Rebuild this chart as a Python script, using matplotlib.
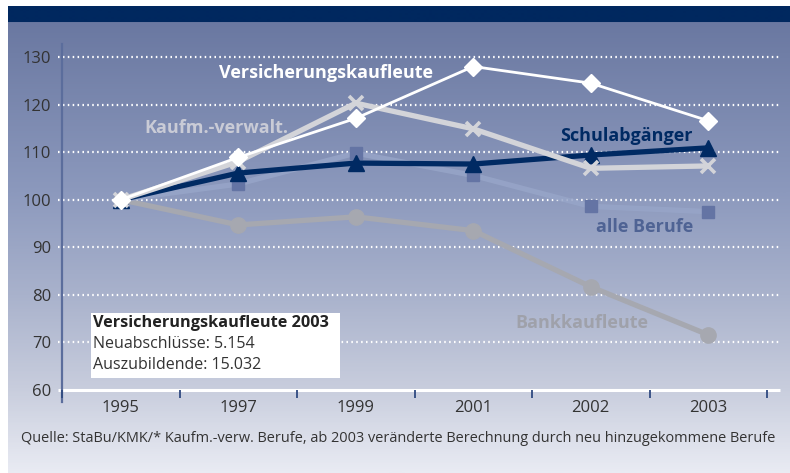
import numpy as np
import matplotlib
matplotlib.use("Agg")
import matplotlib.pyplot as plt
from matplotlib.patches import Rectangle
from matplotlib.lines import Line2D
from matplotlib.colors import LinearSegmentedColormap

# ---------------- data ----------------
years = ["1995", "1997", "1999", "2001", "2002", "2003"]
versicherung = [100, 108.9, 117.1, 128.0, 124.5, 116.6]
kaufm_verwalt = [100, 108.0, 120.3, 114.9, 106.6, 107.1]
schulabgaenger = [100, 105.6, 107.7, 107.5, 109.4, 110.9]
alle_berufe = [100, 103.3, 109.8, 105.1, 98.6, 97.5]
bankkaufleute = [100, 94.7, 96.4, 93.5, 81.7, 71.6]
y_ticks = [60, 70, 80, 90, 100, 110, 120, 130]

label_vers = "Versicherungskaufleute"
label_kaufm = "Kaufm.-verwalt."
label_schul = "Schulabgänger"
label_alle = "alle Berufe"
label_bank = "Bankkaufleute"
box_title = "Versicherungskaufleute 2003"
box_lines = ["Neuabschlüsse: 5.154", "Auszubildende: 15.032"]
source = "Quelle: StaBu/KMK/* Kaufm.-verw. Berufe, ab 2003 veränderte Berechnung durch neu hinzugekommene Berufe"

FONT = ["Open Sans", "DejaVu Sans"]
plt.rcParams["font.family"] = FONT

W, H = 790, 473
fig = plt.figure(figsize=(W / 100, H / 100), dpi=100)
fig.patch.set_facecolor("white")

def fx(px):
    return px / W

def fy(py):
    return 1 - py / H

# ---------------- background ----------------
bg = fig.add_axes([fx(8), fy(473), fx(790) - fx(8), fy(6) - fy(473)], zorder=0)
bg.set_axis_off()
stops = [(0.0, "#00285f"), (0.0345, "#00285f"), (0.0346, "#6a78a1"),
         (0.40, "#8c99bd"), (0.62, "#a9b2cc"), (0.82, "#c8cddd"), (1.0, "#e9ebf3")]
cmap = LinearSegmentedColormap.from_list("bgc", stops)
grad = np.linspace(0, 1, 467).reshape(-1, 1)
bg.imshow(grad, aspect="auto", cmap=cmap, extent=[0, 1, 1, 0], interpolation="bilinear")
bg.set_xlim(0, 1)
bg.set_ylim(1, 0)

# ---------------- main axes ----------------
ax = fig.add_axes([fx(58), fy(390), fx(780) - fx(58), fy(44) - fy(390)], zorder=2)
ax.patch.set_alpha(0)
band = 117.5
x_left = -0.5 - 4 / band
x_right = 5.5 + 13 / band
ax.set_xlim(x_left, x_right)
ymax = 130 + 13 / 4.76
ax.set_ylim(60, ymax)
for s in ax.spines.values():
    s.set_visible(False)

x = np.arange(len(years))

# grid lines (dotted white)
for yv in y_ticks[1:]:
    ax.plot([x_left, x_right], [yv, yv], color="white", lw=1.6,
            linestyle=(0, (0.7, 1.5)), dash_capstyle="butt", zorder=1)
# bottom axis line
ax.plot([x_left, x_right], [60, 60], color="white", lw=2.2, zorder=1, clip_on=False,
        solid_capstyle="butt")
# left vertical axis line
ax.add_line(Line2D([-0.5, -0.5], [60 - 12 / 4.76, ymax], color="#5b6d9c", lw=1.6,
                   clip_on=False, zorder=1))

# ticks
ax.set_yticks(y_ticks)
ax.set_yticklabels([str(v) for v in y_ticks])
ax.tick_params(axis="y", length=0, pad=5, labelsize=12, labelcolor="#333333")
ax.set_xticks(x)
ax.set_xticklabels(years)
ax.tick_params(axis="x", which="major", length=0, pad=7, labelsize=12, labelcolor="#333333")
ax.set_xticks(np.arange(-0.5, 6.0, 1.0), minor=True)
ax.tick_params(axis="x", which="minor", length=6, width=1.3, color="#2f4a80", direction="out")

# series
ax.plot(x, bankkaufleute, color="#a6a8b0", lw=3.8, marker="o", ms=11,
        mfc="#a6a8b0", mec="#a6a8b0", zorder=3, clip_on=False)
ax.plot(x, alle_berufe, color="#97a5c8", lw=3.8, alpha=0.85, zorder=3, clip_on=False)
ax.plot(x, alle_berufe, linestyle="none", marker="s", ms=8.5,
        mfc="#6474a4", mec="#6474a4", zorder=3.5, clip_on=False)
ax.plot(x, schulabgaenger, color="#002a63", lw=3.8, marker="^", ms=11,
        mfc="#002a63", mec="#002a63", zorder=4, clip_on=False)
ax.plot(x, versicherung, color="white", lw=2.0, marker="D", ms=9,
        mfc="white", mec="white", zorder=5, clip_on=False)
ax.plot(x, kaufm_verwalt, color="#d3d4d9", lw=3.8, marker="x", ms=10, mew=2.6,
        mec="#d3d4d9", zorder=4.5, clip_on=False)

def dx(px):
    return (px - 62) / band - 0.5

def dy(py):
    return 130 - (py - 57) / 4.76

ax.text(dx(219), dy(73), label_vers, color="white", fontsize=13, fontweight="bold",
        ha="left", va="center", zorder=6)
ax.text(dx(144), dy(128), label_kaufm, color="#c9cbd6", fontsize=13, fontweight="bold",
        ha="left", va="center", zorder=6)
ax.text(dx(560), dy(136), label_schul, color="#002a63", fontsize=13, fontweight="bold",
        ha="left", va="center", zorder=6)
ax.text(dx(596), dy(227), label_alle, color="#4f6394", fontsize=13, fontweight="bold",
        ha="left", va="center", zorder=6)
ax.text(dx(515), dy(323), label_bank, color="#9fa1aa", fontsize=13, fontweight="bold",
        ha="left", va="center", zorder=6)

# info box
fig.patches.append(Rectangle((fx(91), fy(378)), fx(340) - fx(91), fy(313) - fy(378),
                             transform=fig.transFigure, facecolor="white",
                             edgecolor="none", zorder=7))
fig.text(fx(93), fy(323), box_title, fontsize=11.7, fontweight="bold", color="#222222",
         ha="left", va="center", zorder=8)
fig.text(fx(93), fy(344), box_lines[0], fontsize=11.5, color="#333333",
         ha="left", va="center", zorder=8)
fig.text(fx(93), fy(365), box_lines[1], fontsize=11.5, color="#333333",
         ha="left", va="center", zorder=8)

# source
fig.text(fx(21), fy(438), source, fontsize=10.45, color="#333333", ha="left", va="center",
         zorder=8)

fig.savefig("out.png", dpi=100)
